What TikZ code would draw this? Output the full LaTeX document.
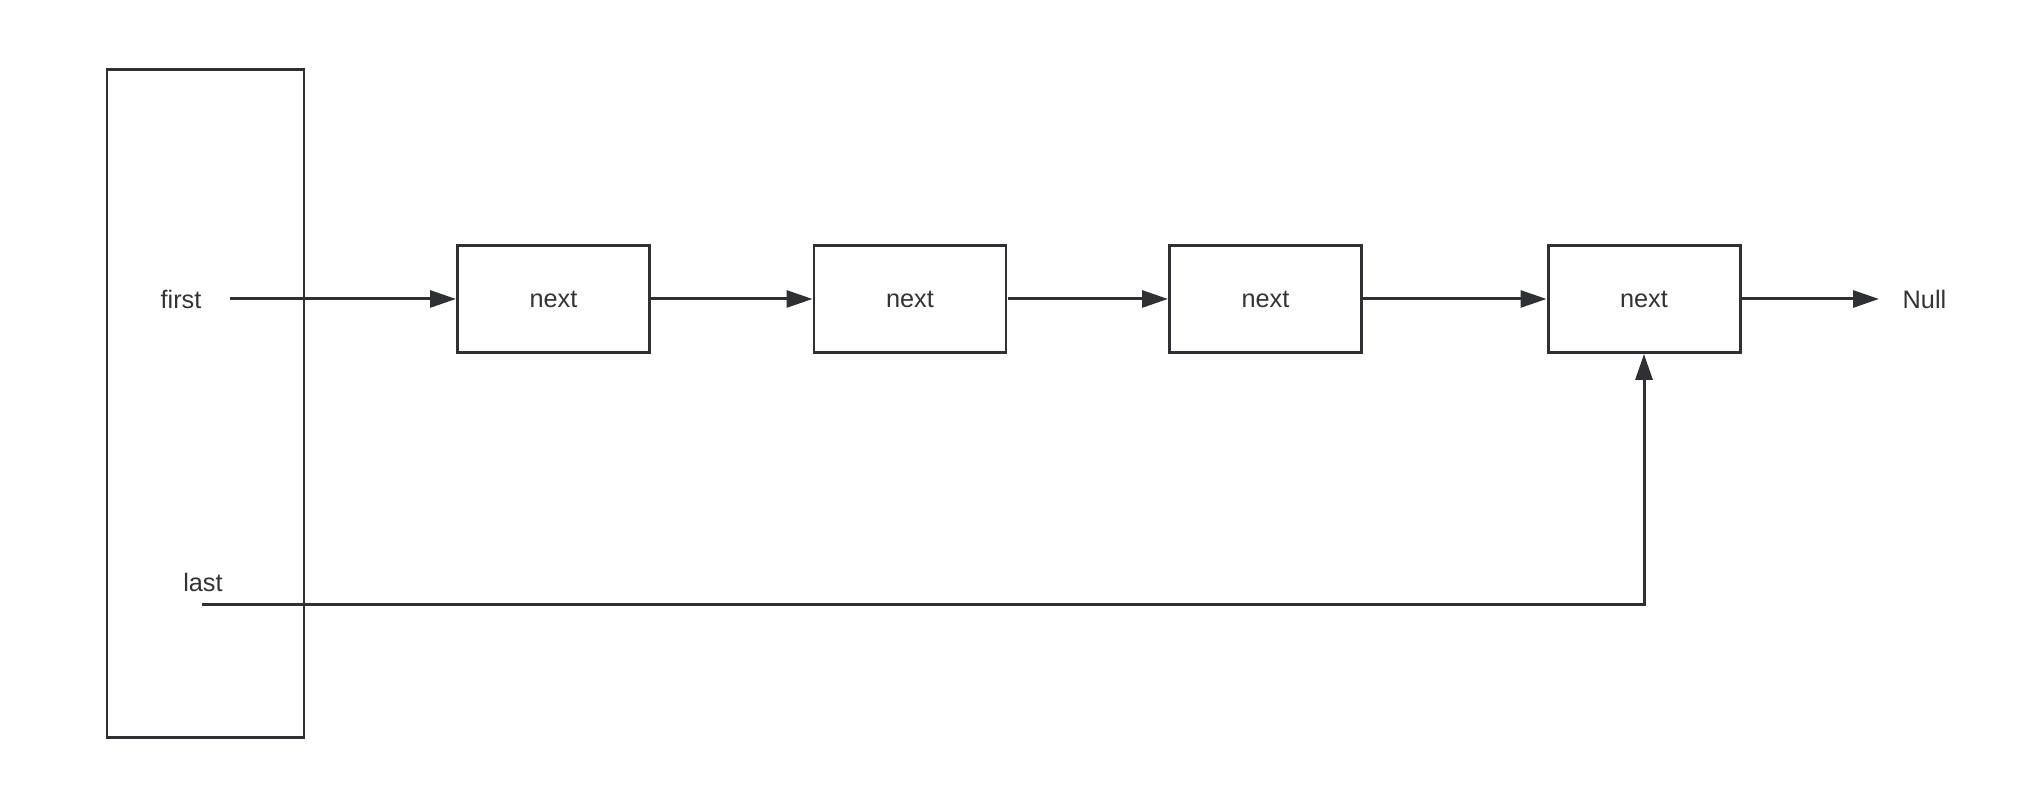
\documentclass[tikz,border=0pt]{standalone}
\usepackage{fontspec}
\setmainfont{Liberation Sans}
\usetikzlibrary{arrows.meta,positioning}
\definecolor{linecol}{HTML}{2E3033}
\definecolor{textcol}{HTML}{333333}

\begin{document}
\begin{tikzpicture}[
    every node/.style={font=\fontsize{7.2}{9}\selectfont, text=textcol},
    nodebox/.style={draw=linecol, line width=0.85pt, minimum width=1.92cm, minimum height=1.07cm, inner sep=0pt},
    link/.style={draw=linecol, line width=0.85pt, -{Triangle[length=0.26cm,width=0.17cm]}}
]
    \useasboundingbox (0,0) rectangle (20.28,8.12);

    % Struktur kepala list
    \node[nodebox, minimum width=1.97cm, minimum height=6.68cm] (head) at (2.055,4.08) {};
    \node (first) at (1.81,5.13) {first};
    \node (last) at (2.03,2.30) {last};
    \coordinate (firstout) at (2.30,5.13);
    \coordinate (lastout) at (2.02,2.07);

    % Simpul-simpul list
    \node[nodebox] (n1) at (5.535,5.13) {next};
    \node[nodebox] (n2) at (9.10,5.13) {next};
    \node[nodebox] (n3) at (12.655,5.13) {next};
    \node[nodebox] (n4) at (16.44,5.13) {next};
    \node (null) at (19.245,5.13) {Null};
    \coordinate (nullin) at (18.79,5.13);

    % Penunjuk
    \draw[link] (firstout) -- (n1);
    \draw[link] (n1) -- (n2);
    \draw[link] (n2) -- (n3);
    \draw[link] (n3) -- (n4);
    \draw[link] (n4) -- (nullin);
    \draw[link] (lastout) -| (n4.south);
\end{tikzpicture}
\end{document}
